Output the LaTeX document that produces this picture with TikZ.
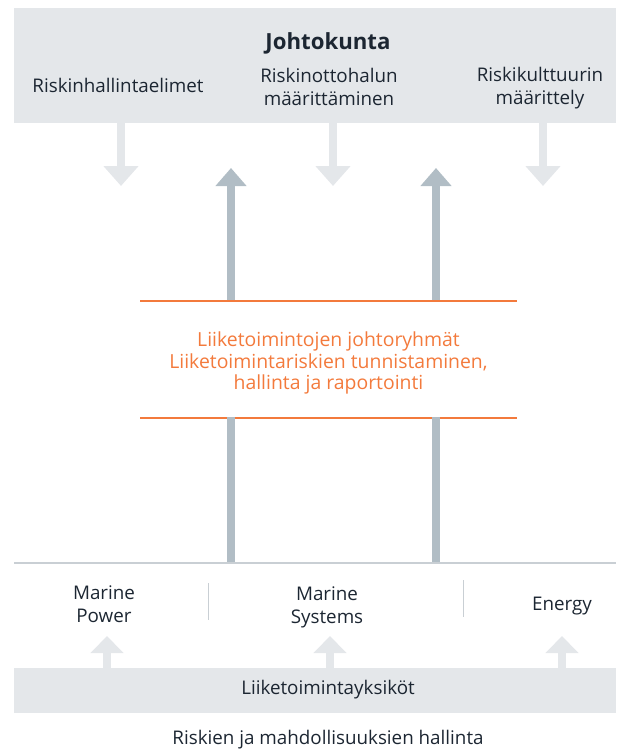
\documentclass[tikz,border=0pt]{standalone}
\usepackage{fontspec}
\setmainfont{Open Sans}
\usetikzlibrary{arrows.meta}

\definecolor{boxgray}{HTML}{E4E7EA}
\definecolor{arrowblue}{HTML}{B1BDC5}
\definecolor{riskorange}{HTML}{F37A3C}
\definecolor{textdark}{HTML}{1C2632}
\definecolor{linegray}{HTML}{C9CFD4}

\tikzset{
  graybox/.style={fill=boxgray, draw=none, minimum width=602pt, inner sep=0pt},
  txt/.style={text=textdark, align=center, inner sep=0pt, font=\fontsize{18.8}{23}\selectfont},
  orangetxt/.style={text=riskorange, align=center, inner sep=0pt, font=\fontsize{19.4}{21.7}\selectfont},
  downarrow/.style={draw=boxgray, line width=8pt, -{Triangle[width=34pt,length=20pt]}},
  smallup/.style={draw=boxgray, line width=8pt, -{Triangle[width=32pt,length=17pt]}},
  uparrow/.style={draw=arrowblue, line width=8pt, -{Triangle[width=30pt,length=18pt]}},
  upshaft/.style={draw=arrowblue, line width=8pt},
  orangeline/.style={fill=riskorange, draw=none},
  sepline/.style={draw=linegray, line width=1pt}
}

\begin{document}
\begin{tikzpicture}[x=1pt, y=-1pt]
  \useasboundingbox (0,0) rectangle (634,752);

  % board
  \node[graybox, minimum height=115pt] (board) at (315,65.5) {};
  \node[txt, font=\fontsize{22.2}{26}\selectfont\bfseries] (boardtitle) at (328,43) {Johtokunta};
  \node[txt] (bodies) at (118,85) {Riskinhallintaelimet};
  \node[txt] (appetite) at (329,87) {Riskinottohalun\\määrittäminen};
  \node[txt] (culture) at (540,88) {Riskikulttuurin\\määrittely};

  \coordinate (d1) at (121,186);
  \coordinate (d2) at (333,186);
  \coordinate (d3) at (543,186);
  \draw[downarrow] (board.south -| d1) -- (d1);
  \draw[downarrow] (board.south -| d2) -- (d2);
  \draw[downarrow] (board.south -| d3) -- (d3);

  % management teams
  \coordinate (teamtop) at (140,300);
  \coordinate (teambot) at (140,417);
  \path[orangeline] (teamtop) rectangle ++(377,1.6);
  \path[orangeline] (teambot) rectangle ++(377,1.6);
  \node[orangetxt] (teams) at (328.5,363)
    {Liiketoimintojen johtoryhmät\\Liiketoimintariskien tunnistaminen,\\hallinta ja raportointi};

  \coordinate (u1) at (231,168);
  \coordinate (u2) at (436,168);
  \coordinate (baseL) at (14,563);
  \coordinate (baseR) at (616,563);
  \draw[upshaft] (baseL -| u1) -- (teambot -| u1);
  \draw[upshaft] (baseL -| u2) -- (teambot -| u2);
  \draw[uparrow] (teamtop -| u1) -- (u1);
  \draw[uparrow] (teamtop -| u2) -- (u2);
  \draw[linegray, line width=1.5pt] (baseL) -- (baseR);

  % units
  \node[txt] (power) at (104,604.5) {Marine\\Power};
  \node[txt] (systems) at (327,607) {Marine\\Systems};
  \node[txt] (energy) at (562,606) {Energy};
  \draw[sepline] (208,583) -- (208,620);
  \draw[sepline] (463,580) -- (463,617);

  \node[graybox, minimum height=45pt] (units) at (315,690.5) {};
  \node[txt] (unitstxt) at (328,690) {Liiketoimintayksiköt};
  \coordinate (s1) at (107,636);
  \coordinate (s2) at (330,636);
  \coordinate (s3) at (562,636);
  \draw[smallup] (units.north -| s1) -- (s1);
  \draw[smallup] (units.north -| s2) -- (s2);
  \draw[smallup] (units.north -| s3) -- (s3);

  \node[txt] (caption) at (328,740) {Riskien ja mahdollisuuksien hallinta};
\end{tikzpicture}
\end{document}
